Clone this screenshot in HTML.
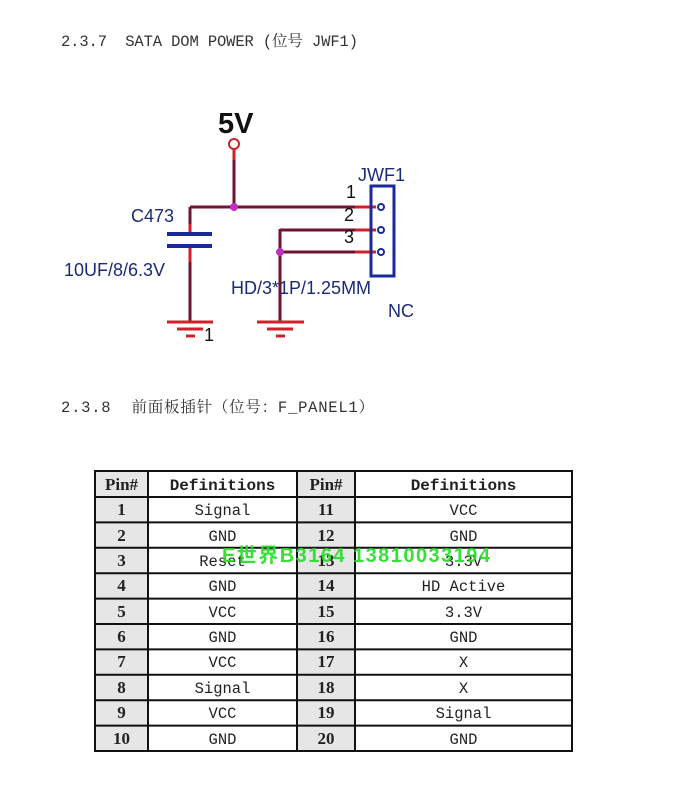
<!DOCTYPE html>
<html><head><meta charset="utf-8"><style>
body{margin:0;background:#fff;}
svg{display:block}
</style></head><body>
<svg width="697" height="810" viewBox="0 0 697 810" xmlns="http://www.w3.org/2000/svg">
<g font-family="'Liberation Mono','Noto Serif CJK SC',monospace" font-size="15.5" fill="#333">
<text x="61" y="46" textLength="297">2.3.7&#160;&#160;SATA DOM POWER (位号 JWF1)</text>
<text x="61" y="412" textLength="313">2.3.8&#160;&#160;前面板插针（位号：F_PANEL1）</text>
</g>
<!-- schematic -->
<g fill="none" stroke-width="3">
<line x1="234" y1="149" x2="234" y2="160" stroke="#d0202a"/>
<line x1="234" y1="160" x2="234" y2="207" stroke="#6e1432"/>
<line x1="190" y1="207" x2="355" y2="207" stroke="#6e1432"/>
<line x1="355" y1="207" x2="376" y2="207" stroke="#d0202a"/>
<line x1="190" y1="207" x2="190" y2="224" stroke="#6e1432"/>
<line x1="190" y1="224" x2="190" y2="234" stroke="#d0202a"/>
<line x1="190" y1="246" x2="190" y2="262" stroke="#d0202a"/>
<line x1="190" y1="262" x2="190" y2="321" stroke="#6e1432"/>
<line x1="280" y1="230" x2="355" y2="230" stroke="#6e1432"/>
<line x1="355" y1="230" x2="376" y2="230" stroke="#d0202a"/>
<line x1="280" y1="252" x2="355" y2="252" stroke="#6e1432"/>
<line x1="355" y1="252" x2="376" y2="252" stroke="#d0202a"/>
<line x1="280" y1="229" x2="280" y2="321" stroke="#6e1432"/>
<line x1="167" y1="234" x2="212" y2="234" stroke="#1a2a9a" stroke-width="4"/>
<line x1="167" y1="246" x2="212" y2="246" stroke="#1a2a9a" stroke-width="4"/>
<line x1="167" y1="322" x2="213" y2="322" stroke="#d0202a"/>
<line x1="177" y1="329" x2="203" y2="329" stroke="#d0202a"/>
<line x1="186" y1="336" x2="195" y2="336" stroke="#d0202a"/>
<line x1="257" y1="322" x2="304" y2="322" stroke="#d0202a"/>
<line x1="267" y1="329" x2="293" y2="329" stroke="#d0202a"/>
<line x1="276" y1="336" x2="285" y2="336" stroke="#d0202a"/>
<circle cx="234" cy="144" r="5" stroke="#d0202a" stroke-width="2" fill="#fff"/>
<rect x="371" y="186" width="23" height="90" stroke="#1a2a9a" stroke-width="3"/>
<circle cx="381" cy="207" r="3" stroke="#1a2a9a" stroke-width="2" fill="#fff"/>
<circle cx="381" cy="230" r="3" stroke="#1a2a9a" stroke-width="2" fill="#fff"/>
<circle cx="381" cy="252" r="3" stroke="#1a2a9a" stroke-width="2" fill="#fff"/>
</g>
<circle cx="234" cy="207" r="4" fill="#c030c0"/>
<circle cx="280" cy="252" r="4" fill="#c030c0"/>
<g font-family="'Liberation Sans',sans-serif" font-size="18" fill="#1a2a7a">
<text x="218" y="133" font-size="29" font-weight="bold" fill="#111">5V</text>
<text x="358" y="181">JWF1</text>
<text x="346" y="198" fill="#111">1</text>
<text x="344" y="221" fill="#111">2</text>
<text x="344" y="243" fill="#111">3</text>
<text x="131" y="222">C473</text>
<text x="64" y="276">10UF/8/6.3V</text>
<text x="231" y="294">HD/3*1P/1.25MM</text>
<text x="388" y="317">NC</text>
<text x="204" y="341" fill="#111">1</text>
</g>
<!-- table -->
<g>
<rect x="95" y="471" width="53" height="280" fill="#e6e6e6"/>
<rect x="297" y="471" width="58" height="280" fill="#e6e6e6"/>
<rect x="148" y="471" width="149" height="26" fill="#fff"/>
<rect x="355" y="471" width="217" height="26" fill="#fff"/>
<g stroke="#111" stroke-width="2" fill="none">
<rect x="95" y="471" width="477" height="280"/>
<line x1="148" y1="471" x2="148" y2="751"/>
<line x1="297" y1="471" x2="297" y2="751"/>
<line x1="355" y1="471" x2="355" y2="751"/>
<line x1="95" y1="497" x2="572" y2="497"/>
<line x1="95" y1="522.4" x2="572" y2="522.4"/>
<line x1="95" y1="547.8" x2="572" y2="547.8"/>
<line x1="95" y1="573.2" x2="572" y2="573.2"/>
<line x1="95" y1="598.6" x2="572" y2="598.6"/>
<line x1="95" y1="624" x2="572" y2="624"/>
<line x1="95" y1="649.4" x2="572" y2="649.4"/>
<line x1="95" y1="674.8" x2="572" y2="674.8"/>
<line x1="95" y1="700.2" x2="572" y2="700.2"/>
<line x1="95" y1="725.6" x2="572" y2="725.6"/>
</g>
<g font-family="'Liberation Mono','Noto Serif CJK SC',monospace" font-size="15.5" fill="#222" text-anchor="middle">
<g font-weight="bold" font-family="'Liberation Serif',serif" font-size="17">
<text x="121.5" y="490">Pin#</text><text x="222.5" y="490" font-family="'Liberation Mono',monospace" font-size="16">Definitions</text>
<text x="326" y="490">Pin#</text><text x="463.5" y="490" font-family="'Liberation Mono',monospace" font-size="16">Definitions</text>
<text x="121.5" y="515">1</text><text x="326" y="515">11</text>
<text x="121.5" y="541">2</text><text x="326" y="541">12</text>
<text x="121.5" y="566">3</text><text x="326" y="566">13</text>
<text x="121.5" y="591">4</text><text x="326" y="591">14</text>
<text x="121.5" y="617">5</text><text x="326" y="617">15</text>
<text x="121.5" y="642">6</text><text x="326" y="642">16</text>
<text x="121.5" y="667">7</text><text x="326" y="667">17</text>
<text x="121.5" y="693">8</text><text x="326" y="693">18</text>
<text x="121.5" y="718">9</text><text x="326" y="718">19</text>
<text x="121.5" y="744">10</text><text x="326" y="744">20</text>
</g>
<text x="222.5" y="515">Signal</text><text x="463.5" y="515">VCC</text>
<text x="222.5" y="541">GND</text><text x="463.5" y="541">GND</text>
<text x="222.5" y="566">Reset</text><text x="463.5" y="566">3.3V</text>
<text x="222.5" y="591">GND</text><text x="463.5" y="591">HD Active</text>
<text x="222.5" y="617">VCC</text><text x="463.5" y="617">3.3V</text>
<text x="222.5" y="642">GND</text><text x="463.5" y="642">GND</text>
<text x="222.5" y="667">VCC</text><text x="463.5" y="667">X</text>
<text x="222.5" y="693">Signal</text><text x="463.5" y="693">X</text>
<text x="222.5" y="718">VCC</text><text x="463.5" y="718">Signal</text>
<text x="222.5" y="744">GND</text><text x="463.5" y="744">GND</text>
</g>
<text x="222" y="562" font-family="'Liberation Sans','Noto Sans CJK SC',sans-serif" font-size="20" font-weight="bold" fill="#22dd22" opacity="0.9" textLength="268">E世界B3164 13810033194</text>
</g>
</svg>
</body></html>
